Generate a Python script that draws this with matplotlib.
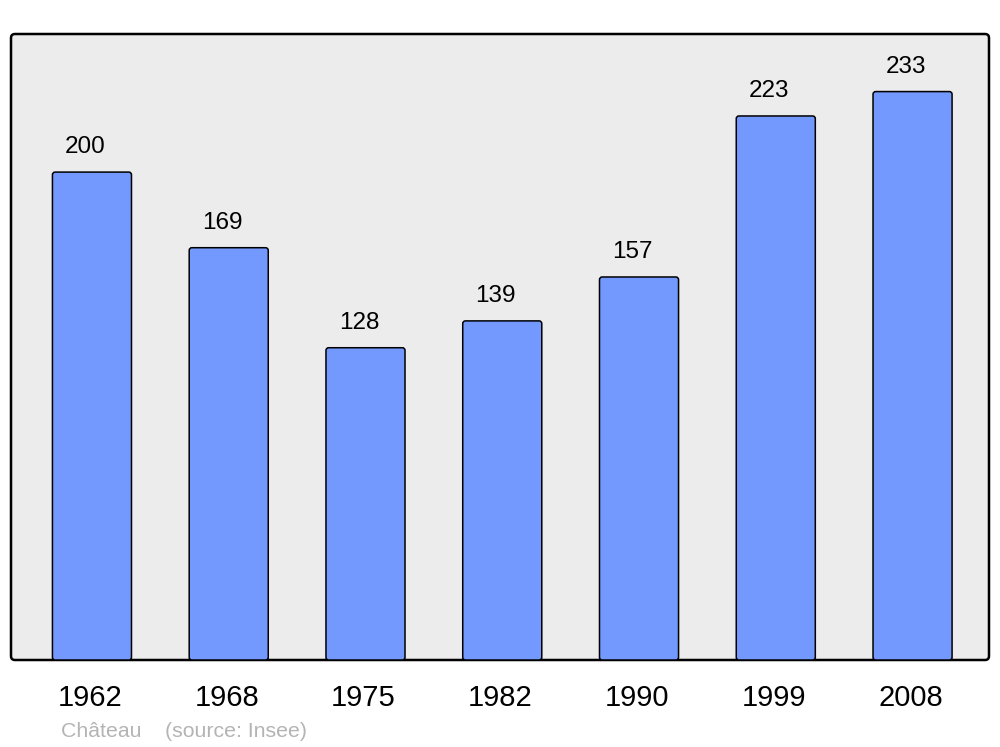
import matplotlib
matplotlib.use("Agg")
import matplotlib.pyplot as plt
from matplotlib.patches import FancyBboxPatch
from matplotlib.transforms import ScaledTranslation

years = ["1962", "1968", "1975", "1982", "1990", "1999", "2008"]
population = [200, 169, 128, 139, 157, 223, 233]

plt.rcParams['font.family'] = ['Liberation Sans', 'DejaVu Sans']

fig = plt.figure(figsize=(10, 7.47), dpi=100)
ax = fig.add_axes([0.011, 87/747, 0.978, 626/747])
ax.patch.set_visible(False)
for s in ax.spines.values():
    s.set_visible(False)

frame = FancyBboxPatch((0.011, 87/747), 0.978, 626/747,
                       boxstyle="round,pad=0,rounding_size=0.004",
                       mutation_aspect=1000/747, transform=fig.transFigure,
                       facecolor="#ececec", edgecolor="black", linewidth=1.8, zorder=-1)
fig.patches.append(frame)

x = list(range(len(years)))
bars = ax.bar(x, population, width=0.578, color="#7399ff", edgecolor="black", linewidth=1.1)
for rect in bars:
    fb = FancyBboxPatch((rect.get_x(), rect.get_y()), rect.get_width(), rect.get_height(),
                        boxstyle="round,pad=0,rounding_size=0.02", mutation_aspect=56,
                        facecolor="#7399ff", edgecolor="black", linewidth=1.1)
    ax.add_patch(fb)
    rect.set_visible(False)

for xi, v in zip(x, population):
    ax.annotate(str(v), (xi, v), xytext=(-4.8, 13.7), textcoords="offset points",
                ha="center", va="baseline", fontsize=17.5, color="black")

ax.set_xlim(-0.592, 6.559)
ax.set_ylim(0, 256.6)
ax.set_xticks(x)
ax.set_xticklabels(years, fontsize=21)
ax.tick_params(axis="x", length=0, pad=17.5)
for lab in ax.get_xticklabels():
    lab.set_transform(lab.get_transform() + ScaledTranslation(-0.02, 0, fig.dpi_scale_trans))
ax.set_yticks([])

fig.text(61/1000, 1 - 737/747, "Château    (source: Insee)", fontsize=15.3,
         color="#b4b4b4", ha="left", va="baseline")

fig.savefig("out.png", dpi=100)
